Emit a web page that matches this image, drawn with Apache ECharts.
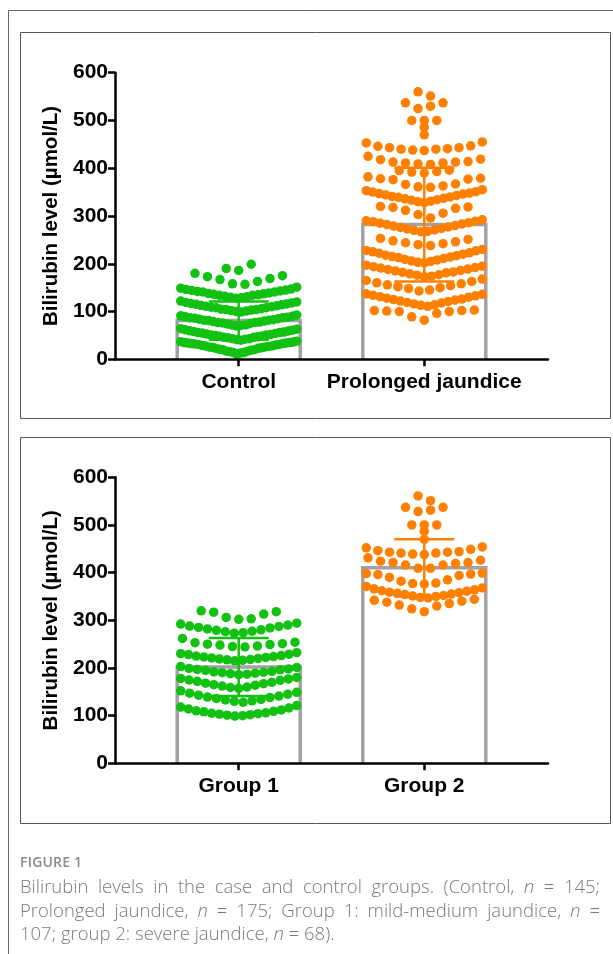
<!DOCTYPE html>
<html>
<head>
<meta charset="utf-8">
<script src="https://cdn.jsdelivr.net/npm/echarts@6/dist/echarts.min.js"></script>
<style>
html,body{margin:0;padding:0;background:#fff;}
#wrap{position:relative;width:613px;height:954px;overflow:hidden;background:#fff;}
#chart{position:absolute;left:0;top:0;width:613px;height:954px;}
.cap{position:absolute;left:20px;white-space:nowrap;font-family:'Open Sans','Noto Sans',sans-serif;}
.fig{font-size:14px;font-weight:600;color:#8a8a8a;letter-spacing:0.2px;line-height:19px;}
.ln{font-size:18.5px;font-weight:300;color:#7a7a7a;line-height:25px;}
</style>
</head>
<body>
<div id="wrap">
  <div id="chart"></div>
  <div class="cap fig" style="top:852px;">FIGURE 1</div>
  <div class="cap ln" data-just="1" style="top:873px;">Bilirubin levels in the case and control groups. (Control, <i>n</i> = 145;</div>
  <div class="cap ln" data-just="1" style="top:897px;">Prolonged jaundice, <i>n</i> = 175; Group 1: mild-medium jaundice, <i>n</i> =</div>
  <div class="cap ln" style="top:920px;">107; group 2: severe jaundice, <i>n</i> = 68).</div>
</div>
<script>
// ---------------- data ----------------
const topCategories = ['Control', 'Prolonged jaundice'];
const bottomCategories = ['Group 1', 'Group 2'];
const yTicks = [0, 100, 200, 300, 400, 500, 600];

const topMeans = [81, 282];
const topSDs = [40, 119];
const bottomMeans = [202, 410];
const bottomSDs = [61, 60];

const controlValues = [
  11, 13, 14, 14, 16, 17, 17, 19, 20, 20, 21, 23, 23, 24, 25, 26, 26, 27, 28, 28, 29, 30, 31, 31, 32, 33, 33, 34, 34, 35, 35, 36, 37, 38,
  40, 41, 42, 43, 43, 45, 46, 46, 47, 48, 49, 50, 51, 51, 52, 53, 54, 55, 56, 56, 57, 58, 59, 60, 61, 62, 63, 64,
  70, 71, 72, 72, 74, 75, 76, 77, 77, 78, 79, 80, 81, 82, 82, 83, 84, 85, 86, 87, 87, 88, 89, 90, 91, 93,
  99, 100, 101, 102, 103, 104, 104, 105, 106, 108, 108, 109, 110, 111, 112, 113, 114, 115, 116, 117, 118, 119, 120, 122,
  128, 129, 130, 131, 132, 134, 134, 135, 136, 137, 138, 139, 141, 141, 142, 143, 144, 145, 146, 147, 149, 151,
  157, 158, 163, 167, 169, 173, 175, 180,
  186, 190, 199
];
const prolongedValues = [
  82, 89, 96, 100, 100, 101, 102, 102, 103,
  111, 113, 114, 116, 118, 119, 121, 122, 124, 125, 126, 128, 130, 131, 133, 134, 136, 137,
  143, 145, 148, 150, 152, 154, 156, 158, 160, 163, 165, 168,
  173, 174, 176, 177, 179, 181, 182, 183, 185, 186, 188, 189, 191, 192, 194, 195, 197,
  202, 203, 205, 206, 208, 209, 211, 213, 214, 215, 217, 218, 220, 222, 223, 225, 227, 228, 230,
  238, 240, 242, 244, 246, 248, 251, 253,
  267, 268, 270, 271, 273, 274, 276, 277, 279, 280, 282, 283, 285, 286, 288, 289, 290, 292,
  296, 303, 306, 312, 316, 318, 319, 320,
  328, 330, 331, 333, 334, 336, 337, 339, 340, 341, 343, 344, 346, 347, 348, 350, 351, 353, 355,
  360, 361, 363, 366, 367, 376, 377, 378, 379, 382,
  390, 392, 393, 395, 396,
  408, 409, 411, 411, 413, 413, 414, 418, 419, 425,
  437, 438, 440, 440, 441, 443, 443, 446, 447, 453, 455,
  470, 486, 500, 500, 500, 525, 530, 537, 537, 551, 560
];
const group1Values = [
  99, 100, 101, 102, 103, 104, 105, 106, 108, 109, 110, 112, 114, 116, 118, 121,
  128, 130, 131, 133, 134, 136, 138, 139, 141, 143, 145, 147, 149, 152,
  157, 159, 160, 162, 164, 165, 167, 168, 170, 172, 174, 175, 177, 178, 180,
  186, 187, 188, 189, 190, 191, 192, 193, 195, 196, 197, 198, 199, 201, 203,
  215, 216, 217, 218, 219, 220, 221, 222, 223, 224, 225, 226, 228, 229, 230, 232,
  244, 245, 246, 248, 249, 250, 251, 253, 254, 262,
  273, 274, 276, 277, 279, 280, 282, 284, 285, 287, 288, 290, 292, 294,
  302, 303, 306, 313, 317, 318, 320
];
const group2Values = [
  318, 324, 330, 332, 335, 338, 340, 342, 344,
  347, 348, 350, 351, 352, 354, 355, 357, 358, 359, 361, 362, 364, 366, 368, 371,
  376, 377, 378, 382, 385, 390, 394, 396, 397, 398, 399,
  409, 409, 416, 416, 419, 421, 421, 424, 426, 431,
  438, 439, 441, 441, 443, 443, 444, 446, 449, 452, 454,
  470, 487, 500, 500, 500, 528, 531, 537, 537, 551, 561
];

// ---------------- layout / style ----------------
const W = 613;
const GRID_LEFT = 115, GRID_RIGHT = 65;
const X_MIN = -2 / 3, X_MAX = 5 / 3;
const unitPx = (W - GRID_LEFT - GRID_RIGHT) / (X_MAX - X_MIN);
const DOT_GAP = 12.5;      // px between neighbouring dots in a sparse row
const MAX_SPREAD = 116;    // px max width of a row
const ROW_SPAN = 28;       // value span of one row
const ROW_GAP = 10;        // value gap that starts a new row
const BAR_W = 123;
const CAP_W = 60;
const DOT_SIZE = 9.5;
const GREEN = '#12c112';
const ORANGE = '#ff8000';
const BAR_GRAY = '#a2a2a6';

function swarm(vals, xc) {
  const s = vals.slice().sort((a, b) => a - b);
  const rows = [];
  let cur = null;
  for (const v of s) {
    if (!cur || v - cur.start > ROW_SPAN || v - cur.last > ROW_GAP) {
      cur = { start: v, last: v, vals: [] };
      rows.push(cur);
    }
    cur.vals.push(v);
    cur.last = v;
  }
  const pts = [];
  rows.forEach((r, ri) => {
    const n = r.vals.length;
    const sp = n > 1 ? Math.min(DOT_GAP, MAX_SPREAD / (n - 1)) : 0;
    const slots = [];
    for (let k = 0; k < n; k++) slots.push((k - (n - 1) / 2) * sp);
    const sign = ri % 2 ? 1 : -1;
    slots.sort((a, b) => (Math.abs(a) - Math.abs(b)) || (sign * (b - a)));
    r.vals.forEach((v, i) => pts.push([xc + slots[i] / unitPx, v]));
  });
  return pts;
}

const axisFont = { fontFamily: '"Liberation Sans", Arial, sans-serif', fontWeight: 'bold', color: '#000' };

function makeX(idx, cats) {
  return {
    type: 'value', gridIndex: idx, min: X_MIN, max: X_MAX, z: 10,
    splitLine: { show: false },
    axisLine: { show: true, onZero: false, lineStyle: { color: '#000', width: 2.5 } },
    axisTick: { show: true, customValues: [0, 1], length: 7, lineStyle: { color: '#000', width: 2.5 } },
    axisLabel: { show: true, customValues: [0, 1], margin: 12, fontSize: 21, ...axisFont,
      formatter: v => cats[Math.round(v)] }
  };
}
function makeY(idx) {
  return {
    type: 'value', gridIndex: idx, min: yTicks[0], max: yTicks[yTicks.length - 1], interval: 100, z: 10,
    splitLine: { show: false },
    axisLine: { show: true, onZero: false, lineStyle: { color: '#000', width: 2.5 } },
    axisTick: { show: true, length: 7, lineStyle: { color: '#000', width: 2.5 } },
    axisLabel: { margin: 7, fontSize: 21, ...axisFont },
    name: 'Bilirubin level (µmol/L)', nameLocation: 'middle', nameRotate: 90, nameGap: 47,
    nameTextStyle: { fontSize: 20.5, ...axisFont }
  };
}

function barSeries(idx, means) {
  return {
    type: 'custom', xAxisIndex: idx, yAxisIndex: idx, z: 1,
    data: means.map((m, i) => [i, m]),
    renderItem: (params, api) => {
      const top = api.coord([api.value(0), api.value(1)]);
      const base = api.coord([api.value(0), 0]);
      const hw = BAR_W / 2;
      return { type: 'group', children: [
        { type: 'rect', shape: { x: top[0] - hw, y: top[1], width: BAR_W, height: base[1] - top[1] }, style: { fill: '#fff' } },
        { type: 'polyline', shape: { points: [[top[0] - hw, base[1]], [top[0] - hw, top[1]], [top[0] + hw, top[1]], [top[0] + hw, base[1]]] },
          style: { stroke: BAR_GRAY, lineWidth: 3.5, fill: null } }
      ] };
    }
  };
}
function errSeries(idx, i, mean, sd, color) {
  return {
    type: 'custom', xAxisIndex: idx, yAxisIndex: idx, z: 4,
    data: [[i, mean, sd]],
    renderItem: (params, api) => {
      const x = api.value(0), m = api.value(1), s = api.value(2);
      const t = api.coord([x, m + s]), b = api.coord([x, m - s]);
      const st = { stroke: color, lineWidth: 2.5 };
      return { type: 'group', children: [
        { type: 'line', shape: { x1: t[0], y1: t[1], x2: b[0], y2: b[1] }, style: st },
        { type: 'line', shape: { x1: t[0] - CAP_W / 2, y1: t[1], x2: t[0] + CAP_W / 2, y2: t[1] }, style: st },
        { type: 'line', shape: { x1: b[0] - CAP_W / 2, y1: b[1], x2: b[0] + CAP_W / 2, y2: b[1] }, style: st }
      ] };
    }
  };
}
function dots(idx, vals, xc, color) {
  return {
    type: 'scatter', xAxisIndex: idx, yAxisIndex: idx, z: 3,
    symbol: 'circle', symbolSize: DOT_SIZE, itemStyle: { color: color, opacity: 1 },
    data: swarm(vals, xc), silent: true
  };
}

const chart = echarts.init(document.getElementById('chart'), null, { renderer: 'canvas' });
chart.setOption({
  animation: false,
  backgroundColor: '#fff',
  grid: [
    { left: GRID_LEFT, right: GRID_RIGHT, top: 72.7, height: 286.6 },
    { left: GRID_LEFT, right: GRID_RIGHT, top: 477.3, height: 286 }
  ],
  xAxis: [makeX(0, topCategories), makeX(1, bottomCategories)],
  yAxis: [makeY(0), makeY(1)],
  graphic: [
    { type: 'line', shape: { x1: 8.5, y1: 10.5, x2: 613, y2: 10.5 }, style: { stroke: '#666', lineWidth: 1 } },
    { type: 'line', shape: { x1: 8.5, y1: 10.5, x2: 8.5, y2: 954 }, style: { stroke: '#666', lineWidth: 1 } },
    { type: 'rect', shape: { x: 20.5, y: 32.5, width: 590, height: 386 }, style: { fill: null, stroke: '#555', lineWidth: 1 } },
    { type: 'rect', shape: { x: 20.5, y: 437.5, width: 590, height: 386 }, style: { fill: null, stroke: '#555', lineWidth: 1 } }
  ],
  series: [
    barSeries(0, topMeans),
    barSeries(1, bottomMeans),
    dots(0, controlValues, 0, GREEN),
    dots(0, prolongedValues, 1, ORANGE),
    dots(1, group1Values, 0, GREEN),
    dots(1, group2Values, 1, ORANGE),
    errSeries(0, 0, topMeans[0], topSDs[0], GREEN),
    errSeries(0, 1, topMeans[1], topSDs[1], ORANGE),
    errSeries(1, 0, bottomMeans[0], bottomSDs[0], GREEN),
    errSeries(1, 1, bottomMeans[1], bottomSDs[1], ORANGE)
  ]
});

// justify the first two caption lines
document.querySelectorAll('[data-just]').forEach(el => {
  const text = el.textContent;
  const spaces = (text.match(/ /g) || []).length;
  const w = el.getBoundingClientRect().width;
  const target = 580;
  if (spaces > 0 && w < target) el.style.wordSpacing = ((target - w) / spaces) + 'px';
});
</script>
</body>
</html>
